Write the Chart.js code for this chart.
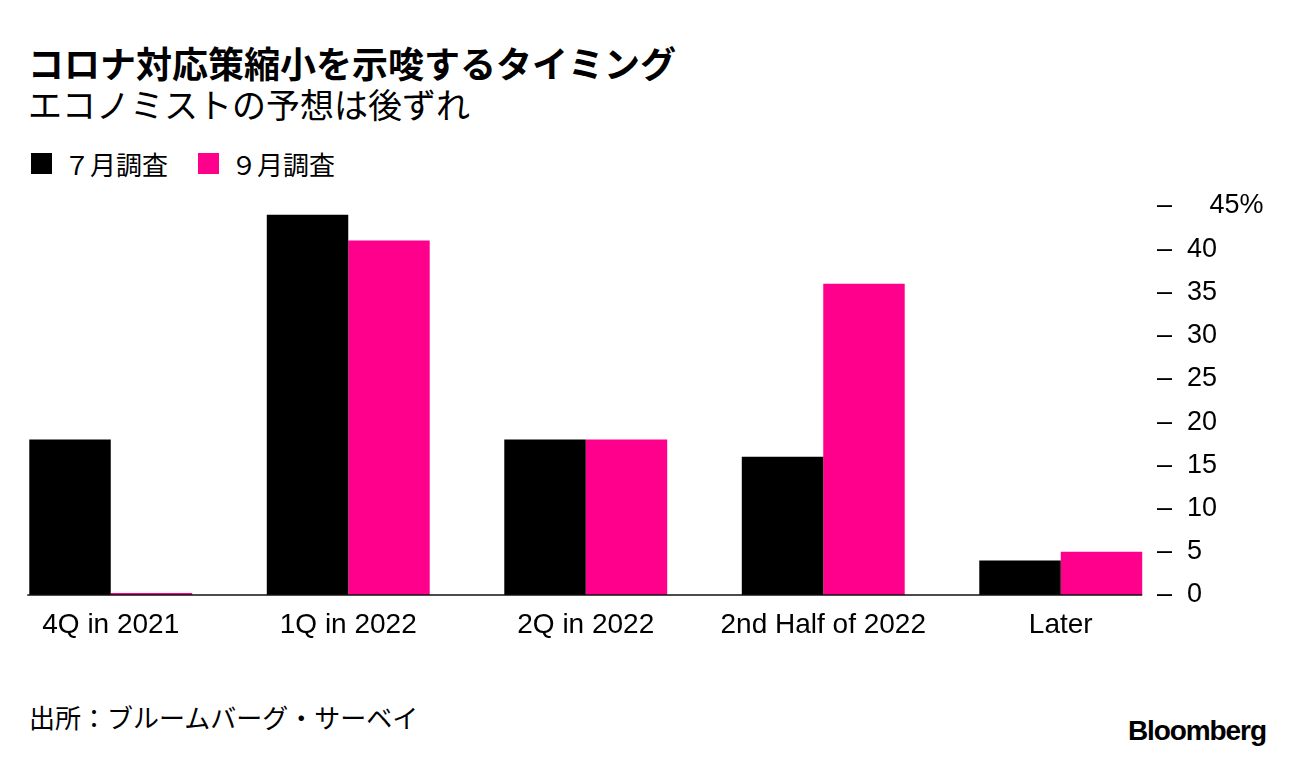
<!DOCTYPE html>
<html>
<head>
<meta charset="utf-8">
<script src="https://cdn.jsdelivr.net/npm/chart.js@4"></script>
<style>
  html, body { margin:0; padding:0; background:#fff; width:1296px; height:760px; overflow:hidden; }
  body { position:relative; font-family:"Noto Sans CJK JP", sans-serif; color:#000; }
  .t { position:absolute; white-space:nowrap; }
  #title { left:28px; top:38px; font-size:36px; font-weight:700; line-height:48px; }
  #subtitle { left:28px; top:83px; font-size:34px; font-weight:400; line-height:42px; }
  .leg { position:absolute; top:145px; height:36px; display:flex; align-items:center; font-size:26px; }
  .sw { width:21px; height:21px; margin-right:12px; }
  #source { left:29px; top:700px; font-size:26px; line-height:34px; }
  #logo { left:1128px; top:713px; font-family:"Liberation Sans", Arial, sans-serif; font-weight:700; font-size:28px; letter-spacing:-1.1px; line-height:36px; }
  #wrap { position:absolute; left:0; top:180px; width:1296px; height:470px; }
</style>
</head>
<body>
<div class="t" id="title">コロナ対応策縮小を示唆するタイミング</div>
<div class="t" id="subtitle">エコノミストの予想は後ずれ</div>
<div class="leg" style="left:31px"><div class="sw" id="sw0"></div><span id="lg0"></span></div>
<div class="leg" style="left:198px"><div class="sw" id="sw1"></div><span id="lg1"></span></div>
<div class="t" id="source">出所：ブルームバーグ・サーベイ</div>
<div class="t" id="logo">Bloomberg</div>
<div id="wrap"><canvas id="c" width="1296" height="470"></canvas></div>
<script>
const categories = ["4Q in 2021", "1Q in 2022", "2Q in 2022", "2nd Half of 2022", "Later"];
const seriesNames = ["７月調査", "９月調査"];
const julySurvey = [18, 44, 18, 16, 4];
const septSurvey = [0, 41, 18, 36, 5];
const yTicks = [0, 5, 10, 15, 20, 25, 30, 35, 40, 45];
const colors = ["#000000", "#ff008c"];

document.getElementById('sw0').style.background = colors[0];
document.getElementById('sw1').style.background = colors[1];
document.getElementById('lg0').textContent = seriesNames[0];
document.getElementById('lg1').textContent = seriesNames[1];

const baseline = {
  id: 'baseline',
  afterDatasetsDraw(chart) {
    const ctx = chart.ctx;
    const y = chart.scales.y.getPixelForValue(0);
    const m0 = chart.getDatasetMeta(0).data[0];
    const m1 = chart.getDatasetMeta(1).data;
    const last = m1[m1.length - 1];
    const x0 = m0.x - m0.width / 2 - 2;
    const x1 = last.x + last.width / 2;
    ctx.save();
    ctx.strokeStyle = '#111';
    ctx.lineWidth = 1.5;
    ctx.beginPath();
    ctx.moveTo(x0, y);
    ctx.lineTo(x1, y);
    ctx.stroke();
    ctx.restore();
  }
};

new Chart(document.getElementById('c'), {
  type: 'bar',
  data: {
    labels: categories,
    datasets: [
      { label: seriesNames[0], data: julySurvey, backgroundColor: colors[0], barPercentage: 1, categoryPercentage: 0.686, clip: false },
      { label: seriesNames[1], data: septSurvey, backgroundColor: colors[1], barPercentage: 1, categoryPercentage: 0.686, minBarLength: 2, clip: false }
    ]
  },
  options: {
    responsive: false,
    animation: false,
    devicePixelRatio: 1,
    layout: { padding: { top: 26, left: 110.75, right: 0, bottom: 0 } },
    plugins: { legend: { display: false }, tooltip: { enabled: false } },
    scales: {
      x: {
        offset: false,
        grid: { display: false, drawTicks: false },
        border: { display: false },
        ticks: { color: '#000', font: { family: 'Liberation Sans', size: 28 }, padding: 13, maxRotation: 0, autoSkip: false },
        afterFit(s) { s.height = 55; s.paddingLeft = 0; s.paddingRight = 0; }
      },
      y: {
        position: 'right',
        min: 0, max: 45,
        afterBuildTicks(s) { s.ticks = yTicks.map(v => ({ value: v })); },
        grid: { display: false, drawTicks: false },
        border: { display: false },
        ticks: {
          color: '#000',
          font: { family: 'Liberation Sans', size: 27 },
          padding: 96.25,
          crossAlign: 'near',
          callback: (v) => v === 45 ? '–     45%' : '–  ' + v
        },
        afterFit(s) { s.width = 235.25; s.paddingTop = 0; s.paddingBottom = 0; }
      }
    }
  },
  plugins: [baseline]
});
</script>
</body>
</html>
